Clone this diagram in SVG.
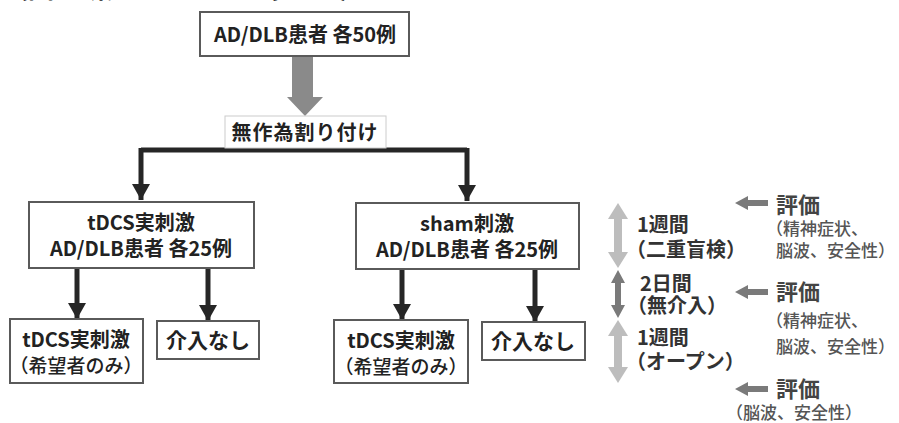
<svg xmlns="http://www.w3.org/2000/svg" width="899" height="423" viewBox="0 0 899 423">
<style>
text{font-family:"Noto Sans CJK JP","Noto Sans",sans-serif;fill:#222}
.b{font-weight:700}
.box{fill:#fff;stroke:#5a5a5a;stroke-width:2}
.conn{stroke:#262626;stroke-width:5;fill:none}
.t{font-size:20px;font-weight:700;fill:#333}
.ev{font-size:22px;font-weight:700;fill:#444}
.evs{font-size:17px;font-weight:500;fill:#555}
</style>
<defs>
<marker id="ah" markerUnits="userSpaceOnUse" markerWidth="18" markerHeight="18" refX="16" refY="9" orient="auto">
<path d="M0,0 L16,9 L0,18 Z" fill="#262626"/>
</marker>
</defs>
<rect width="899" height="423" fill="#fff"/>
<text x="2" y="-2" font-size="26" font-weight="700">（図　研究のフローチャート）</text>

<g id="connectors">
<polygon points="292,56 313,56 313,97 323,97 305,116 287,97 292,97" fill="#8a8a8a"/>
<path class="conn" d="M141,150 H467"/>
<path class="conn" d="M141,148 V200" marker-end="url(#ah)"/>
<path class="conn" d="M467,148 V201" marker-end="url(#ah)"/>
<path class="conn" d="M77,268 V319" marker-end="url(#ah)"/>
<path class="conn" d="M208,268 V321" marker-end="url(#ah)"/>
<path class="conn" d="M402,269 V320" marker-end="url(#ah)"/>
<path class="conn" d="M535,269 V322" marker-end="url(#ah)"/>
</g>

<g id="n-top">
<rect class="box" x="200" y="12" width="209" height="44"/>
<text class="b" x="305" y="42" font-size="20" text-anchor="middle">AD/DLB患者  各50例</text>
</g>
<g id="n-random">
<rect x="225" y="116" width="161" height="32" fill="#fff" stroke="#ccc" stroke-width="1"/>
<text class="b" x="305" y="140" font-size="20" text-anchor="middle" letter-spacing="1">無作為割り付け</text>
</g>
<g id="n-tdcs">
<rect class="box" x="29" y="202" width="225" height="66"/>
<text class="b" x="141" y="230" font-size="20" text-anchor="middle">tDCS実刺激</text>
<text class="b" x="141" y="256" font-size="20" text-anchor="middle">AD/DLB患者 各25例</text>
</g>
<g id="n-sham">
<rect class="box" x="356" y="203" width="223" height="66"/>
<text class="b" x="467" y="231" font-size="20" text-anchor="middle">sham刺激</text>
<text class="b" x="467" y="257" font-size="20" text-anchor="middle">AD/DLB患者 各25例</text>
</g>
<g id="n-l1">
<rect class="box" x="10" y="319" width="133" height="64"/>
<text class="b" x="76" y="347" font-size="20" text-anchor="middle">tDCS実刺激</text>
<text x="76" y="373" font-size="19" font-weight="500" text-anchor="middle">（希望者のみ）</text>
</g>
<g id="n-l2">
<rect class="box" x="157" y="321" width="102" height="38"/>
<text class="b" x="208" y="348" font-size="21" text-anchor="middle">介入なし</text>
</g>
<g id="n-r1">
<rect class="box" x="334" y="320" width="134" height="63"/>
<text class="b" x="401" y="348" font-size="20" text-anchor="middle">tDCS実刺激</text>
<text x="401" y="374" font-size="19" font-weight="500" text-anchor="middle">（希望者のみ）</text>
</g>
<g id="n-r2">
<rect class="box" x="482" y="322" width="103" height="38"/>
<text class="b" x="533" y="349" font-size="21" text-anchor="middle">介入なし</text>
</g>

<g id="timeline">
<polygon points="618,203 628,219 622,219 622,252 628,252 618,268 608,252 614,252 614,219 608,219" fill="#bdbdbd"/>
<polygon points="618,270 625,283 621,283 621,305 625,305 618,318 611,305 615,305 615,283 611,283" fill="#7a7a7a"/>
<polygon points="618,320 628,336 622,336 622,367 628,367 618,383 608,367 614,367 614,336 608,336" fill="#bdbdbd"/>
<text class="t" x="637" y="232">1週間</text>
<text class="t" x="626" y="257" font-size="18">（二重盲検）</text>
<text class="t" x="640" y="291" font-size="14">2日間</text>
<text class="t" x="627" y="313" font-size="16">（無介入）</text>
<text class="t" x="637" y="345">1週間</text>
<text class="t" x="626" y="369" font-size="18">（オープン）</text>
</g>

<g id="eval1">
<polygon points="735,203 748,196 748,200 768,200 768,206 748,206 748,210" fill="#7a7a7a"/>
<text class="ev" x="776" y="213">評価</text>
<text class="evs" x="766" y="235" font-size="18">（精神症状、</text>
<text class="evs" x="776" y="257">脳波、安全性）</text>
</g>
<g id="eval2">
<polygon points="735,292 748,285 748,289 768,289 768,295 748,295 748,299" fill="#7a7a7a"/>
<text class="ev" x="776" y="300">評価</text>
<text class="evs" x="766" y="327" font-size="18">（精神症状、</text>
<text class="evs" x="776" y="353">脳波、安全性）</text>
</g>
<g id="eval3">
<polygon points="735,389 748,382 748,386 768,386 768,392 748,392 748,396" fill="#7a7a7a"/>
<text class="ev" x="776" y="397">評価</text>
<text class="evs" x="726" y="419" font-size="20">（脳波、安全性）</text>
</g>
</svg>
